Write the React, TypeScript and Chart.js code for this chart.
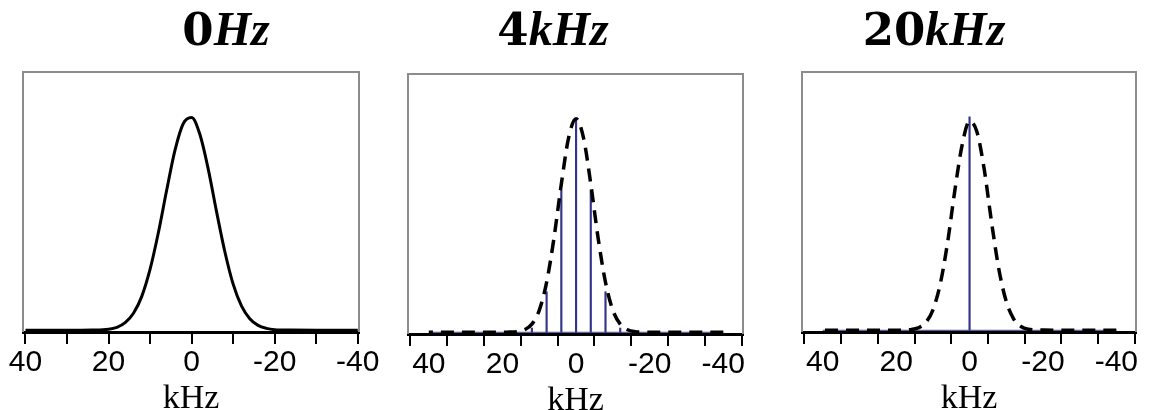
import React, { useEffect, useRef } from "react";
import { Chart, registerables } from "chart.js";

Chart.register(...registerables);

// ---------- data ----------
const TICK_VALUES = [-40, -30, -20, -10, 0, 10, 20, 30, 40];
const LABELED_TICKS = [-40, -20, 0, 20, 40];
const AXIS_TITLE = "kHz";

const P1_TITLE_NUM = "0";
const P1_TITLE_UNIT = "Hz";
const P2_TITLE_NUM = "4";
const P2_TITLE_UNIT = "kHz";
const P3_TITLE_NUM = "20";
const P3_TITLE_UNIT = "kHz";

// panel 1: solid spectrum (0 Hz)
const P1_X = [-40, -30, -24, -20, -18, -16, -14, -12, -10, -8, -6, -4, -2, 0, 2, 4, 6, 8, 10, 12, 14, 16, 18, 20, 24, 30, 40];
const P1_Y = [0, 0, 0.001, 0.003, 0.009, 0.023, 0.054, 0.114, 0.216, 0.368, 0.556, 0.755, 0.917, 0.997, 0.969, 0.844, 0.657, 0.458, 0.286, 0.159, 0.08, 0.036, 0.014, 0.005, 0.001, 0, 0];

// panel 2: dashed envelope + sticks (4 kHz)
const P2_CURVE_X = [-40, -30, -20, -18, -16, -14, -12, -10, -8, -6, -4, -2, 0, 2, 4, 6, 8, 10, 12, 14, 16, 18, 20, 30, 40];
const P2_CURVE_Y = [0, 0, 0, 0.001, 0.003, 0.012, 0.038, 0.103, 0.234, 0.441, 0.695, 0.913, 1.0, 0.913, 0.695, 0.441, 0.234, 0.103, 0.038, 0.012, 0.003, 0.001, 0, 0, 0];
const P2_STICK_X = [-12, -8, -4, 0, 4, 8, 12];
const P2_STICK_Y = [0.02, 0.19, 0.665, 1.0, 0.665, 0.19, 0.02];

// panel 3: dashed envelope + single stick (20 kHz)
const P3_CURVE_X = [-40, -30, -20, -16, -14, -12, -10, -8, -6, -4, -2, 0, 2, 4, 6, 8, 10, 12, 14, 16, 20, 30, 40];
const P3_CURVE_Y = [0, 0, 0.001, 0.005, 0.018, 0.054, 0.135, 0.285, 0.506, 0.754, 0.93, 0.98, 0.87, 0.656, 0.41, 0.216, 0.095, 0.035, 0.011, 0.003, 0, 0, 0];
const P3_STICK_X = [0];
const P3_STICK_Y = [1.0];

const BASELINE_X = [-40, 40];
const BASELINE_Y = [0, 0];

// ---------- helpers ----------
const pts = (xs: number[], ys: number[]) => xs.map((x, i) => ({ x, y: ys[i] }));

const STICK_COLOR = "#34348a";

const solidCurve = (xs: number[], ys: number[]) => ({
  type: "line" as const,
  data: pts(xs, ys),
  borderColor: "#000",
  borderWidth: 3,
  pointRadius: 0,
  cubicInterpolationMode: "monotone" as const,
  fill: false,
});

const dashedCurve = (xs: number[], ys: number[]) => ({
  ...solidCurve(xs, ys),
  borderWidth: 3.5,
  borderDash: [13, 8],
});

const sticks = (xs: number[], ys: number[]) => ({
  type: "bar" as const,
  data: pts(xs, ys),
  backgroundColor: STICK_COLOR,
  borderWidth: 0,
  barThickness: 1.5,
});

const baseline = () => ({
  type: "line" as const,
  data: pts(BASELINE_X, BASELINE_Y),
  borderColor: STICK_COLOR,
  borderWidth: 1,
  pointRadius: 0,
  fill: false,
});

const boxPlugin = {
  id: "box",
  beforeDatasetsDraw(chart: any) {
    const { ctx, chartArea } = chart;
    const { left, top, right, bottom } = chartArea;
    ctx.save();
    ctx.strokeStyle = "#8c8c8c";
    ctx.lineWidth = 2;
    ctx.beginPath();
    ctx.moveTo(left, bottom);
    ctx.lineTo(left, top);
    ctx.lineTo(right, top);
    ctx.lineTo(right, bottom);
    ctx.stroke();
    ctx.restore();
  },
};

const NUM_FONT = 'bold 45px "DejaVu Serif", serif';
const UNIT_FONT = 'italic bold 48px "Liberation Serif", serif';

const makeTitlePlugin = (num: string, unit: string, centerX: number) => ({
  id: "mathTitle",
  afterDraw(chart: any) {
    const ctx = chart.ctx;
    ctx.save();
    ctx.fillStyle = "#000";
    ctx.textBaseline = "alphabetic";
    ctx.textAlign = "left";
    ctx.font = NUM_FONT;
    const w1 = ctx.measureText(num).width;
    ctx.font = UNIT_FONT;
    const w2 = ctx.measureText(unit).width;
    let x = centerX - (w1 + w2) / 2;
    const y = 45;
    ctx.font = NUM_FONT;
    ctx.fillText(num, x, y);
    x += w1;
    ctx.font = UNIT_FONT;
    ctx.fillText(unit, x, y);
    ctx.restore();
  },
});

type PanelCfg = {
  left: number;
  width: number;
  padL: number;
  padR: number;
  padT: number;
  padB: number;
  num: string;
  unit: string;
  titleCenter: number;
  datasets: any[];
};

const PANELS: PanelCfg[] = [
  {
    left: 0, width: 392, padL: 23, padR: 33, padT: 72, padB: 4,
    num: P1_TITLE_NUM, unit: P1_TITLE_UNIT, titleCenter: 226,
    datasets: [solidCurve(P1_X, P1_Y)],
  },
  {
    left: 392, width: 388, padL: 16, padR: 37, padT: 74, padB: 2,
    num: P2_TITLE_NUM, unit: P2_TITLE_UNIT, titleCenter: 553,
    datasets: [dashedCurve(P2_CURVE_X, P2_CURVE_Y), sticks(P2_STICK_X, P2_STICK_Y), baseline()],
  },
  {
    left: 780, width: 387, padL: 22, padR: 31, padT: 72, padB: 4,
    num: P3_TITLE_NUM, unit: P3_TITLE_UNIT, titleCenter: 934,
    datasets: [dashedCurve(P3_CURVE_X, P3_CURVE_Y), sticks(P3_STICK_X, P3_STICK_Y), baseline()],
  },
];

const CANVAS_H = 420;

function Panel({ cfg }: { cfg: PanelCfg }) {
  const ref = useRef<HTMLCanvasElement>(null);
  useEffect(() => {
    const chart = new Chart(ref.current as HTMLCanvasElement, {
      type: "scatter",
      data: { datasets: cfg.datasets },
      options: {
        responsive: false,
        animation: false,
        devicePixelRatio: 1,
        layout: { padding: { left: cfg.padL, right: cfg.padR, top: cfg.padT, bottom: cfg.padB } },
        plugins: {
          legend: { display: false },
          tooltip: { enabled: false },
          title: { display: false },
        },
        scales: {
          x: {
            type: "linear",
            reverse: true,
            min: -40.3,
            max: 40.6,
            afterBuildTicks: (s: any) => {
              s.ticks = TICK_VALUES.map((v) => ({ value: v }));
            },
            grid: {
              drawOnChartArea: false,
              drawTicks: true,
              tickLength: 12,
              lineWidth: 2,
              tickWidth: 2,
              tickColor: "#000",
              color: "#000",
            },
            border: { display: true, color: "#000", width: 3 },
            ticks: {
              autoSkip: false,
              maxRotation: 0,
              padding: 4,
              color: "#000",
              font: { family: '"Liberation Sans", Arial, sans-serif', size: 30, lineHeight: 1 },
              callback: (v: any) => (LABELED_TICKS.includes(Number(v)) ? String(v) : ""),
            },
            title: {
              display: true,
              text: AXIS_TITLE,
              color: "#000",
              font: { family: '"Liberation Serif", serif', size: 34, lineHeight: 1 },
              padding: { top: 0, bottom: 0 },
            },
          },
          y: { display: false, min: -0.008, max: 1.21 },
        },
      } as any,
      plugins: [boxPlugin, makeTitlePlugin(cfg.num, cfg.unit, cfg.titleCenter - cfg.left)],
    });
    return () => chart.destroy();
  }, []);
  return (
    <canvas
      ref={ref}
      width={cfg.width}
      height={CANVAS_H}
      style={{ position: "absolute", left: cfg.left, top: 0, width: cfg.width, height: CANVAS_H }}
    />
  );
}

export default function App() {
  return (
    <div
      style={{
        position: "fixed",
        left: 0,
        top: 0,
        width: 1167,
        height: 410,
        overflow: "hidden",
        background: "#fff",
      }}
    >
      {PANELS.map((p, i) => (
        <Panel key={i} cfg={p} />
      ))}
    </div>
  );
}
